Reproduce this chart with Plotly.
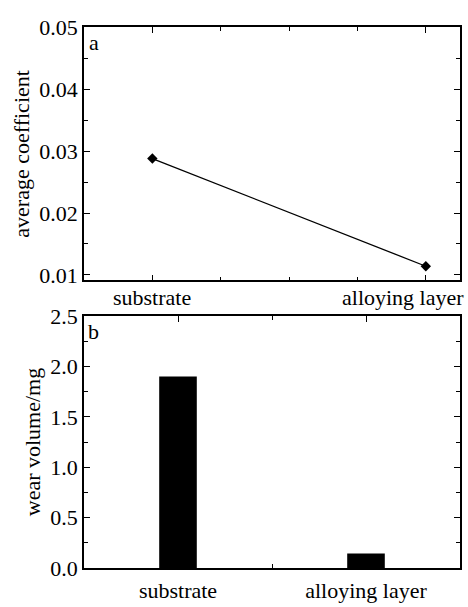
import plotly.graph_objects as go

categories = ["substrate", "alloying layer"]
avg_coefficient = [0.0288, 0.0114]
wear_volume = [1.90, 0.145]

FONT = "Liberation Serif, Times New Roman, serif"
FS = 22
W, H = 468, 607

def fx(px):
    return px / W

def fy(py):
    return 1 - py / H

fig = go.Figure()

xpos = list(range(len(categories)))

fig.add_trace(go.Scatter(
    x=xpos, y=avg_coefficient, mode="lines+markers",
    line=dict(color="black", width=1.3),
    marker=dict(symbol="diamond", size=8, color="black"),
    xaxis="x", yaxis="y", showlegend=False, cliponaxis=False))

fig.add_trace(go.Bar(
    x=xpos, y=wear_volume, width=0.2,
    marker=dict(color="black", line=dict(width=0)),
    xaxis="x2", yaxis="y2", showlegend=False))

axis_common = dict(
    showline=True, linecolor="black", linewidth=1.5, mirror="allticks",
    ticks="inside", ticklen=6, tickwidth=1.2, tickcolor="black",
    showgrid=False, zeroline=False, ticklabeloverflow="allow",
    tickfont=dict(family=FONT, size=FS, color="black"),
)

# top-panel category labels (last one pulled inside the figure, as in the reference)
top_labels = []
for i, c in enumerate(categories):
    if i == len(categories) - 1:
        top_labels.append(dict(text=c, xref="paper", x=fx(466), xanchor="right",
                               yref="paper", y=fy(283), yanchor="top", showarrow=False,
                               font=dict(family=FONT, size=FS, color="black")))
    else:
        top_labels.append(dict(text=c, xref="x", x=xpos[i], xanchor="center",
                               yref="paper", y=fy(283), yanchor="top", showarrow=False,
                               font=dict(family=FONT, size=FS, color="black")))

fig.update_layout(
    width=W, height=H,
    margin=dict(l=0, r=0, t=0, b=0),
    paper_bgcolor="white", plot_bgcolor="white",
    font=dict(family=FONT, color="black"),
    xaxis=dict(axis_common, domain=[fx(84), fx(460)], anchor="y",
               range=[-0.25, 1.125], tickmode="array", tickvals=xpos,
               showticklabels=False,
               minor=dict(ticks="inside", ticklen=4, tickcolor="black", dtick=0.25, tick0=0)),
    yaxis=dict(axis_common, domain=[fy(280), fy(16)], anchor="x",
               range=[0.0091, 0.05], tickmode="array",
               tickvals=[0.01, 0.02, 0.03, 0.04, 0.05],
               ticktext=["0.01", "0.02", "0.03", "0.04", "0.05"],
               minor=dict(ticks="inside", ticklen=4, tickcolor="black", dtick=0.005, tick0=0),
               title=dict(text="average coefficient", standoff=4,
                          font=dict(family=FONT, size=FS, color="black"))),
    xaxis2=dict(axis_common, domain=[fx(84), fx(460)], anchor="y2",
                range=[-0.5, 1.5], tickmode="array", tickvals=xpos,
                ticktext=categories, ticklabelstandoff=2,
                minor=dict(ticks="inside", ticklen=4, tickcolor="black", dtick=0.5, tick0=0)),
    yaxis2=dict(axis_common, domain=[fy(580), fy(317)], anchor="x2",
                range=[0, 2.5], tickmode="array",
                tickvals=[0, 0.5, 1.0, 1.5, 2.0, 2.5],
                ticktext=["0.0", "0.5", "1.0", "1.5", "2.0", "2.5"],
                minor=dict(ticks="inside", ticklen=4, tickcolor="black", dtick=0.25, tick0=0),
                title=dict(text="wear volume/mg", standoff=4,
                           font=dict(family=FONT, size=FS, color="black"))),
    annotations=top_labels + [
        dict(text="a", xref="paper", yref="paper", x=fx(87), y=fy(17),
             xanchor="left", yanchor="top", showarrow=False,
             font=dict(family=FONT, size=FS, color="black")),
        dict(text="b", xref="paper", yref="paper", x=fx(86), y=fy(318),
             xanchor="left", yanchor="top", showarrow=False,
             font=dict(family=FONT, size=FS, color="black")),
    ],
)

fig.write_html("out.html", config={"displayModeBar": False},
               post_script="document.body.style.margin='0';document.body.style.overflow='hidden';")
